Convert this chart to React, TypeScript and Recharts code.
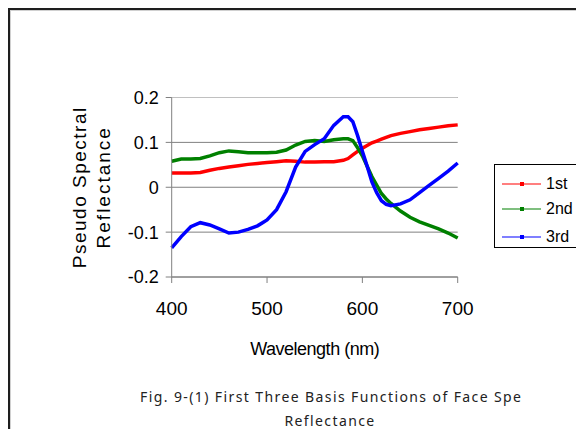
import { LineChart, Line, XAxis, YAxis, CartesianGrid, ReferenceLine } from 'recharts';

// wavelength samples (nm)
const wavelengths = [
  400, 410, 420, 430, 440, 450, 460, 470, 480, 490, 500, 510, 520, 530, 540, 550, 560, 570,
  580, 585, 590, 595, 600, 605, 610, 615, 620, 625, 630, 640, 650, 660, 670, 680, 690, 700,
];

// basis functions
const first = [
  0.032, 0.032, 0.032, 0.033, 0.038, 0.042, 0.045, 0.048, 0.051, 0.053, 0.055, 0.057, 0.059, 0.058,
  0.056, 0.056, 0.057, 0.057, 0.06, 0.064, 0.072, 0.08, 0.087, 0.093, 0.099, 0.103, 0.107, 0.111,
  0.115, 0.12, 0.124, 0.128, 0.131, 0.134, 0.137, 0.139,
];
const second = [
  0.058, 0.063, 0.063, 0.064, 0.07, 0.077, 0.081, 0.079, 0.077, 0.077, 0.077, 0.078, 0.083, 0.094,
  0.102, 0.104, 0.102, 0.106, 0.108, 0.108, 0.104, 0.088, 0.07, 0.047, 0.024, 0.005, -0.014, -0.026,
  -0.036, -0.053, -0.067, -0.077, -0.085, -0.093, -0.102, -0.113,
];
const third = [
  -0.135, -0.11, -0.088, -0.079, -0.084, -0.093, -0.102, -0.1, -0.094, -0.086, -0.073, -0.05, -0.01,
  0.045, 0.08, 0.095, 0.108, 0.138, 0.157, 0.157, 0.146, 0.115, 0.08, 0.047, 0.012, -0.012, -0.03,
  -0.038, -0.041, -0.037, -0.028, -0.012, 0.004, 0.02, 0.036, 0.054,
];

const xTicks = [400, 500, 600, 700];
const yTicks = [-0.2, -0.1, 0, 0.1, 0.2];

const seriesNames = ['1st', '2nd', '3rd'];
const seriesKeys = ['first', 'second', 'third'];
const seriesColors = ['#FF0000', '#008000', '#0000FF'];

// caption as it appears (first line is cut short in the source)
const captionLines = ['Fig. 9-(1) First Three Basis Functions of Face Spe', 'Reflectance'];

const data = wavelengths.map((wl, i) => ({
  wl,
  first: first[i],
  second: second[i],
  third: third[i],
}));

const axisFont = '"Liberation Sans", Arial, sans-serif';
const captionFont = '"Noto Sans", sans-serif';

const YLabel = ({ viewBox }: any) => {
  const cy = viewBox.y + viewBox.height / 2;
  return (
    <g fontFamily={axisFont} fontSize={19} fill="#000">
      <text x={86} y={cy} textAnchor="middle" letterSpacing={1.5} transform={`rotate(-90, 86, ${cy})`}>
        Pseudo Spectral
      </text>
      <text x={110} y={cy} textAnchor="middle" letterSpacing={2} transform={`rotate(-90, 110, ${cy})`}>
        Reflectance
      </text>
    </g>
  );
};

export default function App() {
  return (
    <div
      style={{
        position: 'fixed',
        left: 8,
        top: 8,
        width: 568,
        height: 421,
        boxSizing: 'border-box',
        borderTop: '2px solid #1e1e1e',
        borderLeft: '2px solid #1e1e1e',
        boxShadow: 'inset 1px 1px 0 #d0d0d0',
        background: '#fff',
        overflow: 'hidden',
      }}
    >
      <style>{'html, body { overflow: hidden; } body { margin: 8px 0 0 8px; }'}</style>
      <div style={{ position: 'absolute', left: -10, top: -10, width: 576, height: 429 }}>
        <LineChart
          width={576}
          height={429}
          data={data}
          margin={{ top: 97.5, right: 118.3, bottom: 122, left: 111.7 }}
        >
          <CartesianGrid vertical={false} stroke="#808080" horizontalValues={yTicks} />
          <ReferenceLine y={0.2} stroke="#c0c0c0" />
          <XAxis
            dataKey="wl"
            type="number"
            domain={[400, 700]}
            ticks={xTicks}
            height={30}
            stroke="#808080"
            tickSize={6}
            tickMargin={19}
            tick={{ fill: '#000', fontSize: 19, fontFamily: axisFont }}
            label={{
              value: 'Wavelength (nm)',
              position: 'insideBottom',
              offset: -48,
              fill: '#000',
              fontSize: 18,
              fontFamily: axisFont,
              letterSpacing: -0.5,
            }}
          />
          <YAxis
            type="number"
            domain={[-0.2, 0.2]}
            ticks={yTicks}
            width={60}
            stroke="#808080"
            tickSize={6}
            tickMargin={7}
            tick={{ fill: '#000', fontSize: 18, fontFamily: axisFont }}
            label={<YLabel />}
          />
          {seriesKeys.map((k, i) => (
            <Line
              key={k}
              type="linear"
              dataKey={k}
              name={seriesNames[i]}
              stroke={seriesColors[i]}
              strokeWidth={3.5}
              dot={false}
              isAnimationActive={false}
            />
          ))}
        </LineChart>

        {/* legend box, runs off the right edge like the original */}
        <div
          style={{
            position: 'absolute',
            left: 494,
            top: 164,
            width: 90,
            height: 84,
            boxSizing: 'border-box',
            border: '1px solid #000',
            background: '#fff',
            fontFamily: axisFont,
            fontSize: 16,
          }}
        >
          {seriesNames.map((n, i) => (
            <div
              key={n}
              style={{ position: 'absolute', left: 0, top: [19, 44, 72][i] - 10, height: 20, width: 88 }}
            >
              <div
                style={{
                  position: 'absolute',
                  left: 7,
                  top: 9,
                  width: 39,
                  height: 2,
                  background: seriesColors[i],
                  opacity: 0.5,
                }}
              />
              <div
                style={{
                  position: 'absolute',
                  left: 25,
                  top: 8,
                  width: 4,
                  height: 4,
                  background: seriesColors[i],
                }}
              />
              <span style={{ position: 'absolute', left: 51, top: 0, lineHeight: '20px', whiteSpace: 'nowrap' }}>
                {n}
              </span>
            </div>
          ))}
        </div>

        {/* caption */}
        <div
          style={{
            position: 'absolute',
            left: 140,
            top: 387,
            whiteSpace: 'nowrap',
            fontFamily: captionFont,
            fontSize: 14,
            letterSpacing: 1.4,
            lineHeight: '20px',
            color: '#222',
          }}
        >
          {captionLines[0]}
        </div>
        <div
          style={{
            position: 'absolute',
            left: 230,
            top: 411,
            width: 200,
            textAlign: 'center',
            fontFamily: captionFont,
            fontSize: 14,
            letterSpacing: 1.4,
            lineHeight: '20px',
            color: '#222',
          }}
        >
          {captionLines[1]}
        </div>
      </div>
    </div>
  );
}
